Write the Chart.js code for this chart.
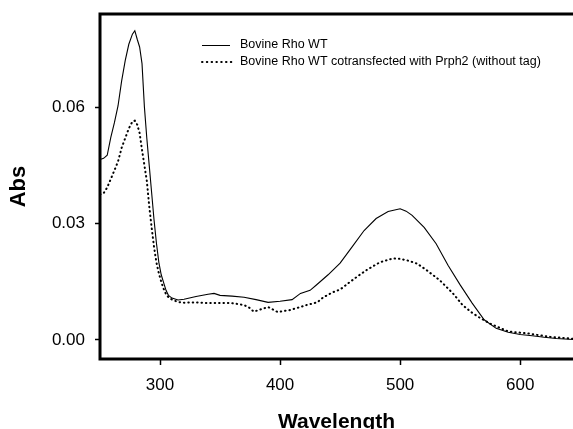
<!DOCTYPE html>
<html>
<head>
<meta charset="utf-8">
<title>Absorbance spectra</title>
<script src="https://cdn.jsdelivr.net/npm/chart.js@4/dist/chart.umd.min.js"></script>
<style>
  html, body { margin: 0; padding: 0; background: #fff; overflow: hidden; }
  #wrap { width: 573px; height: 429px; position: relative; }
</style>
</head>
<body>
<div id="wrap"><canvas id="c" width="573" height="429"></canvas></div>
<script>
// Series: Bovine Rho WT (solid)
const rhoWavelength = [250,253,256,259,262,265,268,271,274,277,279,281,283,285,287,289,291,293,295,297,299,301,303,305,307,310,315,320,330,340,345,350,360,370,380,390,400,410,417,425,430,440,450,460,470,480,490,500,505,510,520,530,540,550,560,570,580,590,600,610,620,630,645];
const rhoAbs = [0.0465,0.0468,0.0476,0.0522,0.0560,0.0603,0.0667,0.0720,0.0762,0.0788,0.0797,0.0775,0.0755,0.0712,0.0600,0.0520,0.0450,0.0380,0.0310,0.0250,0.0200,0.0168,0.0148,0.0128,0.0115,0.0108,0.0103,0.0105,0.0112,0.0118,0.0120,0.0115,0.0113,0.0110,0.0104,0.0097,0.0100,0.0104,0.0120,0.0128,0.0141,0.0168,0.0198,0.0240,0.0282,0.0313,0.0331,0.0338,0.0332,0.0321,0.0290,0.0248,0.0192,0.0142,0.0095,0.0052,0.0030,0.0020,0.0014,0.0011,0.0007,0.0004,0.0001];

// Series: Bovine Rho WT cotransfected with Prph2 (dotted)
const prphWavelength = [250,253,256,259,262,265,268,271,274,277,279,281,283,285,287,289,291,293,295,297,299,301,303,305,307,310,315,320,330,340,350,360,370,375,378,385,390,398,408,417,422,431,436,444,450,458,465,472,483,494,500,506,514,522,533,544,552,560,566,575,590,606,625,645];
const prphAbs = [0.0375,0.0378,0.0393,0.0415,0.0437,0.0460,0.0495,0.0520,0.0545,0.0563,0.0565,0.0555,0.0533,0.0490,0.0450,0.0410,0.0345,0.0290,0.0240,0.0200,0.0172,0.0150,0.0132,0.0118,0.0110,0.0104,0.0098,0.0096,0.0097,0.0095,0.0095,0.0095,0.0090,0.0082,0.0073,0.0080,0.0085,0.0072,0.0077,0.0085,0.0090,0.0097,0.0110,0.0123,0.0130,0.0149,0.0165,0.0180,0.0200,0.0210,0.0209,0.0205,0.0197,0.0180,0.0154,0.0120,0.0090,0.0070,0.0058,0.0042,0.0022,0.0017,0.0008,0.0003];

const seriesLabels = ['Bovine Rho WT', 'Bovine Rho WT cotransfected with Prph2 (without tag)'];
const xTicks = [300, 400, 500, 600];
const yTicks = [0, 0.03, 0.06];

const toPoints = (xs, ys) => xs.map((x, i) => ({ x: x, y: ys[i] }));
const FONT = '"Liberation Sans", Arial, sans-serif';

// Open frame: top, left and bottom edges (the right side runs off the canvas)
const framePlugin = {
  id: 'frame',
  afterDatasetsDraw(chart) {
    const { ctx, chartArea: a } = chart;
    ctx.save();
    ctx.strokeStyle = '#000';
    ctx.lineWidth = 3;
    ctx.lineJoin = 'miter';
    ctx.beginPath();
    ctx.moveTo(a.right + 5, a.top);
    ctx.lineTo(a.left, a.top);
    ctx.lineTo(a.left, a.bottom);
    ctx.lineTo(a.right + 5, a.bottom);
    ctx.stroke();
    ctx.restore();
  }
};

// Legend inside the plot, near the top
const legendPlugin = {
  id: 'innerLegend',
  afterDraw(chart) {
    const { ctx } = chart;
    ctx.save();
    ctx.font = '12.5px ' + FONT;
    ctx.fillStyle = '#000';
    ctx.textBaseline = 'middle';
    ctx.textAlign = 'left';
    // solid sample
    ctx.strokeStyle = '#000';
    ctx.lineWidth = 1;
    ctx.beginPath();
    ctx.moveTo(202, 45.5);
    ctx.lineTo(230, 45.5);
    ctx.stroke();
    ctx.fillText(seriesLabels[0], 240, 45);
    // dotted sample
    ctx.lineWidth = 2;
    ctx.lineCap = 'round';
    ctx.setLineDash([0.5, 4.3]);
    ctx.beginPath();
    ctx.moveTo(202, 62);
    ctx.lineTo(232, 62);
    ctx.stroke();
    ctx.setLineDash([]);
    ctx.fillText(seriesLabels[1], 240, 62);
    ctx.restore();
  }
};

new Chart(document.getElementById('c'), {
  type: 'line',
  data: {
    datasets: [
      {
        label: seriesLabels[0],
        data: toPoints(rhoWavelength, rhoAbs),
        borderColor: '#000',
        borderWidth: 1.1,
        pointRadius: 0,
        tension: 0
      },
      {
        label: seriesLabels[1],
        data: toPoints(prphWavelength, prphAbs),
        borderColor: '#000',
        borderWidth: 2,
        borderDash: [0.5, 3.9],
        borderCapStyle: 'round',
        pointRadius: 0,
        tension: 0
      }
    ]
  },
  options: {
    responsive: false,
    animation: false,
    devicePixelRatio: 1,
    layout: { padding: { top: 14, right: 0, left: 0, bottom: 0 } },
    plugins: { legend: { display: false }, tooltip: { enabled: false } },
    scales: {
      x: {
        type: 'linear',
        min: 250,
        max: 644,
        afterFit(scale) {
          scale.height = 70;
          scale.paddingLeft = 0;
          scale.paddingRight = 0;
        },
        afterBuildTicks(scale) { scale.ticks = xTicks.map(v => ({ value: v })); },
        border: { display: false },
        grid: { display: true, drawOnChartArea: false, drawTicks: true, tickLength: 6, tickColor: '#000', tickWidth: 1.5 },
        ticks: {
          color: '#000',
          padding: 10,
          maxRotation: 0,
          font: { family: FONT, size: 17 },
          callback: v => String(v)
        },
        title: {
          display: true,
          text: 'Wavelength',
          color: '#000',
          font: { family: FONT, size: 21, weight: 'bold', lineHeight: 0.667 },
          padding: { top: 0, bottom: 0 }
        }
      },
      y: {
        type: 'linear',
        min: -0.0049,
        max: 0.084,
        afterFit(scale) {
          scale.width = 100;
          scale.paddingTop = 0;
          scale.paddingBottom = 0;
        },
        afterBuildTicks(scale) { scale.ticks = yTicks.map(v => ({ value: v })); },
        border: { display: false },
        grid: { display: true, drawOnChartArea: false, drawTicks: true, tickLength: 5, tickColor: '#000', tickWidth: 1.5 },
        ticks: {
          color: '#000',
          padding: 10,
          font: { family: FONT, size: 17 },
          callback: v => Number(v).toFixed(2)
        },
        title: {
          display: true,
          text: 'Abs',
          color: '#000',
          font: { family: FONT, size: 22, weight: 'bold', lineHeight: 1 },
          padding: { top: 8, bottom: 0 }
        }
      }
    }
  },
  plugins: [framePlugin, legendPlugin]
});
</script>
</body>
</html>
